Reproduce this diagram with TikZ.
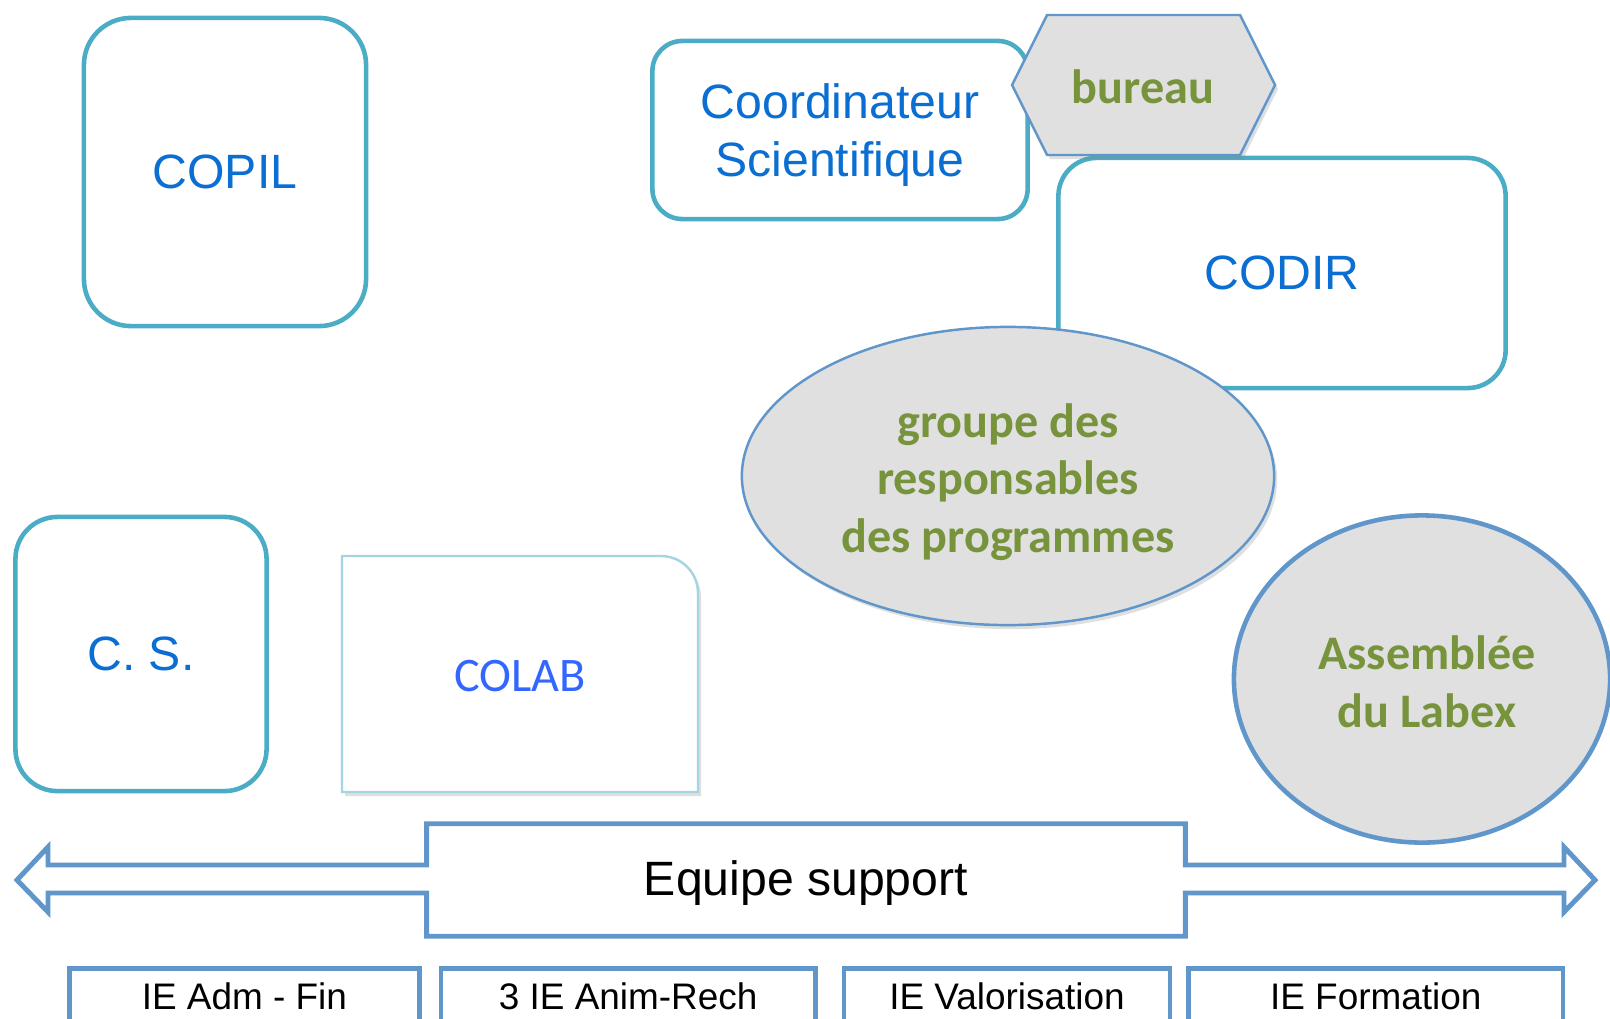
\documentclass[tikz,border=0pt]{standalone}
\usepackage{fontspec}
\setmainfont{Liberation Sans}
\newfontfamily\calibri{Carlito}
\usepackage{tikz}
\usetikzlibrary{shapes,arrows,positioning,shadows}
\definecolor{tealline}{HTML}{4BACC6}
\definecolor{paleteal}{HTML}{A5D5E2}
\definecolor{bluetext}{HTML}{0A6ED2}
\definecolor{colabtext}{HTML}{3366FF}
\definecolor{greentext}{HTML}{77933C}
\definecolor{blueline}{HTML}{6096CA}
\definecolor{grayfill}{HTML}{E0E0E0}

\begin{document}
\begin{tikzpicture}[x=0.01cm, y=-0.01cm,
                   instance/.style={draw=tealline, line width=1.3pt, fill=white,
                     text=bluetext, align=center, font=\fontsize{13.7}{16.4}\selectfont},
                   greenlabel/.style={text=greentext, align=center,
                     font=\calibri\bfseries\fontsize{13.7}{16.4}\selectfont},
                   softshadow/.style={drop shadow={opacity=0.25, shadow xshift=0.03cm, shadow yshift=-0.04cm}},
                   staff/.style={draw=blueline, line width=1.3pt, anchor=north west,
                     minimum height=0.56cm, inner sep=0pt, font=\fontsize{10.5}{12}\selectfont}]
          \clip (0,0) rectangle (1610,1018);
          \node[instance, rounded corners=0.47cm, minimum width=2.82cm, minimum height=3.08cm] (copil) at (225,172) {COPIL};
          \node[instance, rounded corners=0.42cm, minimum width=2.51cm, minimum height=2.74cm] (cs) at (141,654) {C. S.};
          \node[minimum width=3.56cm, minimum height=2.36cm] (colab) at (520,674) {};
          \draw[paleteal, line width=0.7pt, fill=white, softshadow] (342,792) -- (342,556) -- (661,556)
            .. controls (681.4,556) and (698,572.6) .. (698,593) -- (698,792) -- cycle;
          \node[text=colabtext, font=\calibri\fontsize{13.7}{16}\selectfont] (colabtext) at ([yshift=-0.02cm]colab) {COLAB};
          \node[instance, rounded corners=0.3cm, minimum width=3.75cm, minimum height=1.78cm, text depth=0pt] (coord) at (840,130) {Coordinateur\\Scientifique};
          \node[instance, rounded corners=0.38cm, minimum width=4.47cm, minimum height=2.30cm] (codir) at (1282,273) {CODIR};
          \filldraw[draw=blueline, fill=grayfill, line width=0.7pt, softshadow] (1012,85) -- (1047,15) -- (1240,15)
            -- (1275,85) -- (1240,155) -- (1047,155) -- cycle;
          \node[greenlabel] (bureau) at (1143,87) {bureau};
          \node[ellipse, draw=blueline, fill=grayfill, line width=0.7pt, softshadow,
            minimum width=5.32cm, minimum height=2.98cm] (groupe) at (1008,476) {};
          \node[greenlabel] (groupetext) at ([yshift=-0.06cm]groupe) {groupe des\\responsables\\des programmes};
          \node[ellipse, draw=blueline, fill=grayfill, line width=1.3pt,
            minimum width=3.76cm, minimum height=3.27cm] (assemblee) at (1422,679) {};
          \node[greenlabel] (assembleetext) at ([xshift=0.05cm, yshift=-0.03cm]assemblee) {Assembl\'ee\\du Labex};
          \node[minimum width=7.57cm, minimum height=1.11cm, text depth=0.04cm, font=\fontsize{13.7}{16}\selectfont] (equipe) at (806,880) {Equipe support};
          \draw[blueline, line width=1.4pt, line join=miter] (48,865) -| (equipe.north west) -- (equipe.north east)
            |- (1564,865) -- (1564,847) -- (1595,880) -- (1564,912) -- (1564,893) -| (equipe.south east)
            -- (equipe.south west) |- (48,893) -- (48,912) -- (17,880) -- (48,847) -- cycle;
          \node[staff, minimum width=3.50cm] (adm) at (67,966) {IE Adm - Fin};
          \node[staff, minimum width=3.74cm, right=0.17cm of adm] (anim) {3 IE Anim-Rech};
          \node[staff, minimum width=3.26cm, right=0.24cm of anim] (valo) {IE Valorisation};
          \node[staff, minimum width=3.74cm, right=0.14cm of valo] (formation) {IE Formation};
        \end{tikzpicture}
\end{document}
